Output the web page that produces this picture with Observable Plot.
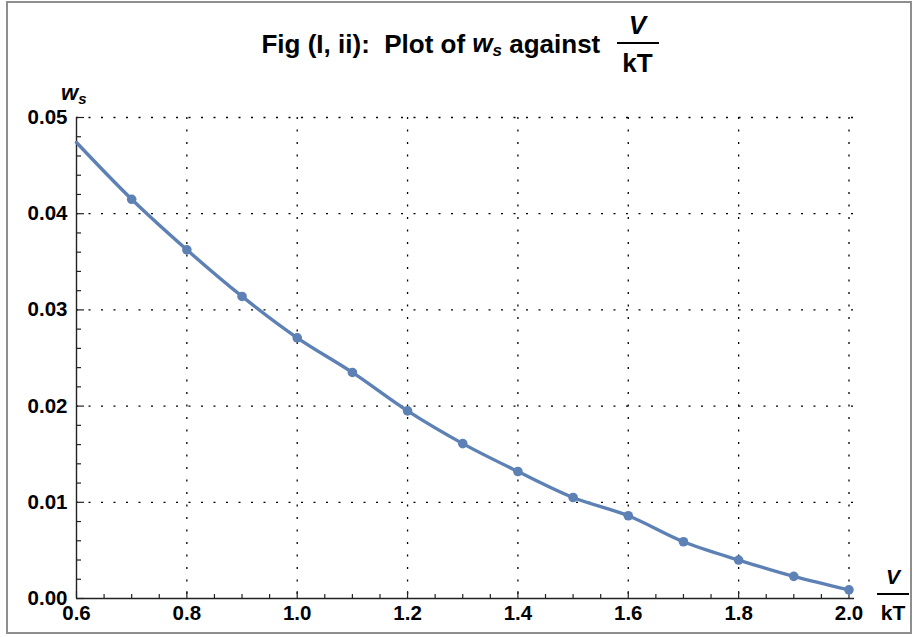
<!DOCTYPE html>
<html>
<head>
<meta charset="utf-8">
<script src="https://cdn.jsdelivr.net/npm/d3@7"></script>
<script src="https://cdn.jsdelivr.net/npm/@observablehq/plot@0.6"></script>
<style>
  html, body { margin: 0; padding: 0; background: #fff; }
  body { font-family: "Liberation Sans", Arial, sans-serif; }
  #wrap { position: relative; width: 920px; height: 637px; overflow: hidden; background: #fff; }
  #border { position: absolute; left: 6px; top: 1px; width: 906px; height: 633px; box-sizing: border-box; border: 2px solid #8e8e8e; pointer-events: none; }
  #chart { position: absolute; left: 0; top: 0; }
  .lbl { position: absolute; font-weight: bold; color: #000; white-space: pre; }
  .frac { position: absolute; display: flex; flex-direction: column; align-items: center; font-weight: bold; color: #000; }
  .frac .bar { height: 2px; background: #000; }
</style>
</head>
<body>
<div id="wrap">
  <div id="chart"></div>
  <div id="title" class="lbl" style="left:0;width:920px;top:0;height:90px;"></div>
  <div id="border"></div>
</div>
<script>
// ---- data ----
const vkt = [0.6, 0.7, 0.8, 0.9, 1.0, 1.1, 1.2, 1.3, 1.4, 1.5, 1.6, 1.7, 1.8, 1.9, 2.0];
const ws  = [0.0474, 0.0415, 0.03625, 0.0314, 0.0271, 0.0235, 0.0195, 0.0161, 0.0132, 0.0105, 0.0086, 0.0059, 0.0040, 0.0023, 0.0009];
const markerFrom = 1; // markers drawn from V/kT = 0.7 onwards

const xTickLabels = ["0.6", "0.8", "1.0", "1.2", "1.4", "1.6", "1.8", "2.0"];
const yTickLabels = ["0.00", "0.01", "0.02", "0.03", "0.04", "0.05"];
const xMajor = xTickLabels.map(Number);
const yMajor = yTickLabels.map(Number);
const xMinor = d3.range(13, 40).map(i => i * 0.05).filter(v => Math.abs(v * 5 - Math.round(v * 5)) > 1e-6);
const yMinor = d3.range(1, 25).map(i => i * 0.002).filter(v => Math.abs(v * 100 - Math.round(v * 100)) > 1e-6);

const titleText = "Fig (I, ii):  Plot of ";
const titleMid = " against ";

const data = vkt.map((v, i) => ({v, w: ws[i]}));

// ---- layout ----
const W = 920, H = 637;
const mL = 76, mR = 66, mT = 117, mB = 39;
const plotW = W - mL - mR, plotH = H - mT - mB;
const font = "'Liberation Sans', Arial, sans-serif";
const blue = "#5E81B5";
const dash = "2,10.5";

const chart = Plot.plot({
  width: W, height: H,
  marginLeft: mL, marginRight: mR, marginTop: mT, marginBottom: mB,
  x: {type: "linear", domain: [0.6, 2.01], axis: null},
  y: {type: "linear", domain: [0, 0.05], axis: null},
  style: {fontFamily: font, background: "transparent", overflow: "visible"},
  marks: [
    // dotted grid
    Plot.ruleX(xMajor.slice(1), {stroke: "#000", strokeWidth: 1.3, strokeDasharray: dash}),
    Plot.ruleY(yMajor.slice(1), {stroke: "#000", strokeWidth: 1.3, strokeDasharray: dash}),
    // ticks (pointing inward)
    Plot.ruleX(xMajor, {insetTop: plotH - 7, stroke: "#222", strokeWidth: 1.2}),
    Plot.ruleX(xMinor, {insetTop: plotH - 4, stroke: "#222", strokeWidth: 1.2}),
    Plot.ruleY(yMajor, {insetRight: plotW - 8, stroke: "#222", strokeWidth: 1.2}),
    Plot.ruleY(yMinor, {insetRight: plotW - 5, stroke: "#222", strokeWidth: 1.2}),
    // axis lines
    Plot.ruleX([0.6], {stroke: "#222", strokeWidth: 1.4}),
    Plot.ruleY([0], {stroke: "#222", strokeWidth: 1.4}),
    // data
    Plot.line(data, {x: "v", y: "w", curve: "catmull-rom", stroke: blue, strokeWidth: 3.4}),
    Plot.dot(data.slice(markerFrom), {x: "v", y: "w", r: 4.8, fill: blue, stroke: "none"}),
    // tick labels
    Plot.text(xTickLabels, {x: d => +d, text: d => d, frameAnchor: "bottom", dy: 21,
      fontSize: 20.5, fontWeight: "bold", fill: "#000"}),
    Plot.text(yTickLabels, {y: d => +d, text: d => d, frameAnchor: "left", dx: -9, textAnchor: "end",
      fontSize: 20.5, fontWeight: "bold", fill: "#000"})
  ]
});
document.getElementById("chart").appendChild(chart);

// ---- title ----
const title = document.getElementById("title");
title.innerHTML = "";
const row = document.createElement("div");
row.style.cssText = "position:absolute;left:0;width:920px;top:11px;display:flex;justify-content:center;align-items:center;font-size:26px;font-weight:bold;white-space:pre;";
const t1 = document.createElement("span");
t1.textContent = titleText;
const tw = document.createElement("span");
tw.innerHTML = "<i>w</i><sub style='font-size:17px;font-style:italic;vertical-align:-4px'>s</sub>";
const t2 = document.createElement("span");
t2.textContent = titleMid;
const fr = document.createElement("span");
fr.style.cssText = "display:inline-flex;flex-direction:column;align-items:center;line-height:28px;margin-left:9px;";
fr.innerHTML = "<i>V</i><span style='display:block;width:42px;height:2px;background:#000;margin:3px 0 5px'></span><span>kT</span>";
row.append(t1, tw, t2, fr);
title.appendChild(row);

// ---- axis labels ----
const wrap = document.getElementById("wrap");
const yl = document.createElement("div");
yl.className = "lbl";
yl.style.cssText += "left:61px;top:82px;font-size:22px;line-height:22px;";
yl.innerHTML = "<i>w</i><sub style='font-size:15px;font-style:italic;vertical-align:-4px'>s</sub>";
wrap.appendChild(yl);

const xl = document.createElement("div");
xl.className = "frac";
xl.style.cssText += "left:876px;top:565px;width:34px;font-size:21px;line-height:24px;";
xl.innerHTML = "<i>V</i><span class='bar' style='display:block;width:32px;margin:4px 0 6px'></span><span>kT</span>";
wrap.appendChild(xl);
</script>
</body>
</html>
